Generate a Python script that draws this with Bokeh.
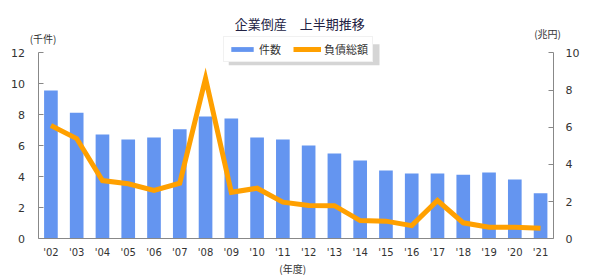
from bokeh.plotting import figure
from bokeh.models import (ColumnDataSource, Range1d, LinearAxis, FixedTicker,
                          Legend, LegendItem, Label, BoxAnnotation)
from bokeh.embed import file_html
from bokeh.resources import INLINE

years = ["'02", "'03", "'04", "'05", "'06", "'07", "'08", "'09", "'10", "'11",
         "'12", "'13", "'14", "'15", "'16", "'17", "'18", "'19", "'20", "'21"]
counts = [9.57, 8.13, 6.73, 6.40, 6.53, 7.07, 7.89, 7.76, 6.53, 6.40,
          6.02, 5.50, 5.05, 4.41, 4.21, 4.21, 4.14, 4.28, 3.83, 2.94]
debt = [6.09, 5.39, 3.13, 2.96, 2.60, 2.99, 8.62, 2.50, 2.72, 1.97,
        1.79, 1.78, 0.98, 0.95, 0.71, 2.06, 0.86, 0.62, 0.62, 0.57]
left_ticks = [0, 2, 4, 6, 8, 10, 12]
right_ticks = [0, 2, 4, 6, 8, 10]
title_text = "企業倒産　上半期推移"
left_unit = "(千件)"
right_unit = "(兆円)"
x_unit = "(年度)"
series_names = ["件数", "負債総額"]

BLUE = "#6495F0"
ORANGE = "#FFA000"
TXT = "#333333"
AX = "#888888"
NUM_FONT = "DejaVu Sans"
CJK_FONT = "Noto Sans CJK JP"

# category slots: one unit per year, bar at slot centre
xs = [i + 0.5 for i in range(len(years))]
src = ColumnDataSource(dict(x=xs, year=years, count=counts, debt=debt))

p = figure(width=599, height=279, output_backend="svg", toolbar_location=None,
           x_range=Range1d(-1.4563, 21.7864),
           y_range=Range1d(-2.626, 15.374),
           min_border=0, min_border_left=0, min_border_right=0,
           min_border_top=0, min_border_bottom=0,
           background_fill_color="white", border_fill_color="white")
p.title.visible = False
p.outline_line_color = None
p.xgrid.visible = False
p.ygrid.visible = False
p.extra_y_ranges = {"right": Range1d(-2.188, 12.812)}

bars = p.vbar(x="x", top="count", width=0.53, source=src, color=BLUE, line_color=None)
line = p.line(x="x", y="debt", source=src, y_range_name="right", color=ORANGE,
              line_width=5, line_join="miter")

ya = p.yaxis[0]
ya.fixed_location = 0
ya.bounds = (0, 12)
ya.ticker = FixedTicker(ticks=left_ticks)
ya.major_tick_in = 5
ya.major_tick_out = 0
ya.minor_tick_line_color = None
ya.axis_line_color = AX
ya.major_tick_line_color = AX
ya.major_label_standoff = 13
ya.major_label_text_font = NUM_FONT
ya.major_label_text_font_size = "11px"
ya.major_label_text_color = TXT

ra = LinearAxis(y_range_name="right", ticker=FixedTicker(ticks=right_ticks))
ra.fixed_location = len(years)
ra.bounds = (0, 10)
ra.major_tick_in = 5
ra.major_tick_out = 0
ra.minor_tick_line_color = None
ra.axis_line_color = AX
ra.major_tick_line_color = AX
ra.major_label_standoff = 12
ra.major_label_text_font = NUM_FONT
ra.major_label_text_font_size = "11px"
ra.major_label_text_color = TXT
p.add_layout(ra, "right")

xa = p.xaxis[0]
xa.fixed_location = 0
xa.bounds = (0, len(years))
xa.ticker = FixedTicker(ticks=xs)
xa.major_label_overrides = {x: y for x, y in zip(xs, years)}
xa.major_tick_in = 0
xa.major_tick_out = 0
xa.minor_tick_line_color = None
xa.axis_line_color = AX
xa.major_label_standoff = 8
xa.major_label_text_font = NUM_FONT
xa.major_label_text_font_size = "10px"
xa.major_label_text_color = TXT

def add_label(x, y, txt, size, color=TXT):
    p.add_layout(Label(x=x, y=y, text=txt, text_font=CJK_FONT, text_font_size=size,
                       text_color=color, text_align="center", text_baseline="middle"))

add_label(10.155, 13.89, title_text, "13px", color="#222244")
add_label(0.194, 12.92, left_unit, "10px")
add_label(19.77, 13.245, right_unit, "10px")
add_label(9.88, -1.916, x_unit, "10px")

# legend shadow
p.add_layout(BoxAnnotation(left=7.40, right=13.25, top=12.55, bottom=11.20,
                           fill_color="#888888", fill_alpha=0.35, line_color=None))

legend = Legend(items=[LegendItem(label=series_names[0], renderers=[bars]),
                       LegendItem(label=series_names[1], renderers=[line])],
                orientation="horizontal", location=(223, 217),
                padding=4, spacing=12, margin=0, label_standoff=3,
                glyph_width=28, glyph_height=6, label_height=14,
                label_text_font=CJK_FONT, label_text_font_size="11px", label_text_color=TXT,
                border_line_color="#e4e4e4", background_fill_color="white", background_fill_alpha=1)
p.add_layout(legend, "center")

open("out.html", "w").write(file_html(p, INLINE))
